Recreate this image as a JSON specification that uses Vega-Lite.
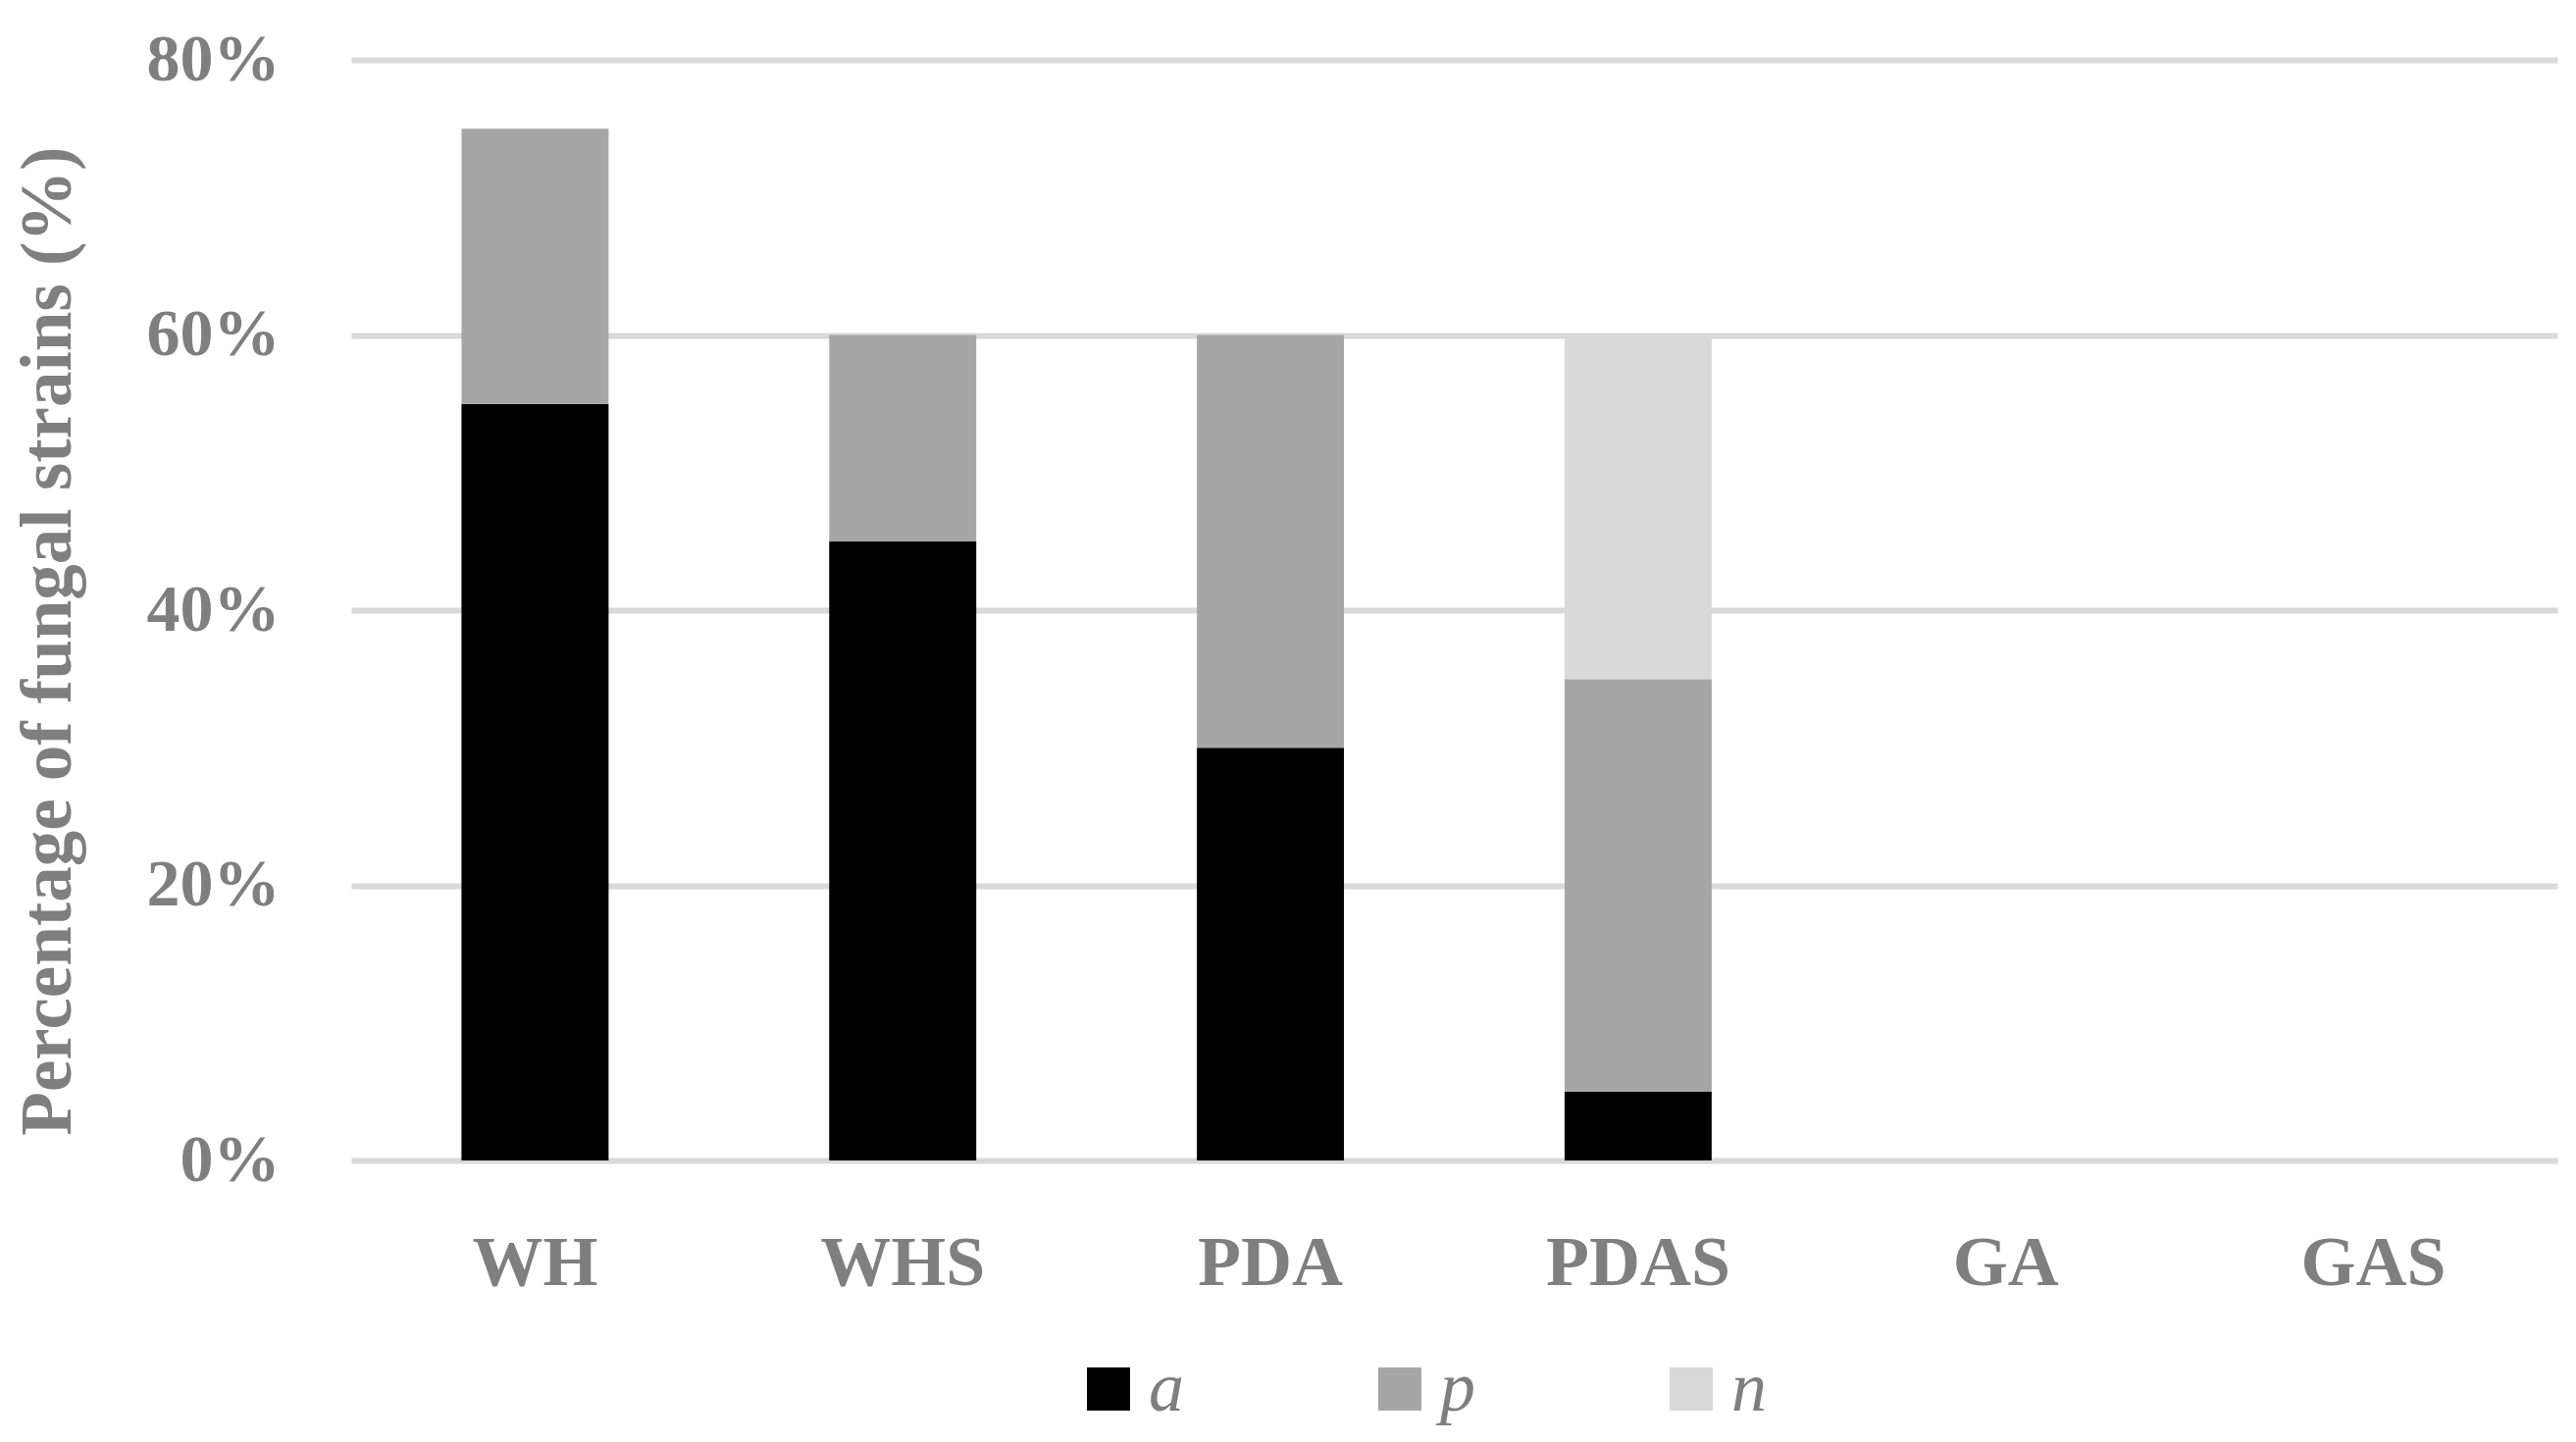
{
  "$schema": "https://vega.github.io/schema/vega-lite/v6.json",
  "autosize": {"type": "none"},
  "padding": {"left": 358, "top": 61, "right": 19, "bottom": 287},
  "width": 2249,
  "height": 1122,
  "background": "white",
  "data": {
    "values": [
      {"medium": "WH", "type": "a", "rank": 1, "pct": 0.55},
      {"medium": "WH", "type": "p", "rank": 2, "pct": 0.20},
      {"medium": "WHS", "type": "a", "rank": 1, "pct": 0.45},
      {"medium": "WHS", "type": "p", "rank": 2, "pct": 0.15},
      {"medium": "PDA", "type": "a", "rank": 1, "pct": 0.30},
      {"medium": "PDA", "type": "p", "rank": 2, "pct": 0.30},
      {"medium": "PDAS", "type": "a", "rank": 1, "pct": 0.05},
      {"medium": "PDAS", "type": "p", "rank": 2, "pct": 0.30},
      {"medium": "PDAS", "type": "n", "rank": 3, "pct": 0.25}
    ]
  },
  "mark": {"type": "bar"},
  "encoding": {
    "x": {
      "field": "medium",
      "type": "nominal",
      "scale": {"domain": ["WH", "WHS", "PDA", "PDAS", "GA", "GAS"], "paddingInner": 0.6, "paddingOuter": 0.3},
      "axis": {
        "title": null,
        "labelAngle": 0,
        "labelBaseline": "alphabetic",
        "labelPadding": 126,
        "labelLimit": 0,
        "ticks": false,
        "domain": false,
        "grid": false,
        "labelFontSize": 72
      }
    },
    "y": {
      "field": "pct",
      "type": "quantitative",
      "stack": "zero",
      "scale": {"domain": [0, 0.8], "nice": false},
      "axis": {
        "title": "Percentage of fungal strains (%)",
        "values": [0, 0.2, 0.4, 0.6, 0.8],
        "format": ".0%",
        "ticks": false,
        "domain": false,
        "labelPadding": 73,
        "labelFontSize": 68,
        "titleFontSize": 73,
        "titlePadding": 72,
        "titleY": 592
      }
    },
    "color": {
      "field": "type",
      "type": "nominal",
      "scale": {"domain": ["a", "p", "n"], "range": ["#000000", "#a6a6a6", "#d9d9d9"]},
      "legend": {
        "title": null,
        "orient": "none",
        "legendX": 736,
        "legendY": 1319,
        "direction": "horizontal",
        "symbolType": "square",
        "symbolSize": 1936,
        "symbolStrokeWidth": 0,
        "labelOffset": 5,
        "columnPadding": 184,
        "padding": 0,
        "labelFont": "Liberation Serif",
        "labelFontStyle": "italic",
        "labelFontWeight": "normal",
        "labelFontSize": 72,
        "labelColor": "#7f7f7f"
      }
    },
    "order": {"field": "rank", "type": "quantitative"}
  },
  "config": {
    "view": {"stroke": null},
    "axis": {
      "labelFont": "Liberation Serif",
      "labelFontWeight": "bold",
      "labelColor": "#7f7f7f",
      "titleFont": "Liberation Serif",
      "titleFontWeight": "bold",
      "titleColor": "#7f7f7f",
      "gridColor": "#d9d9d9",
      "gridWidth": 6,
      "gridOpacity": 1
    }
  }
}
